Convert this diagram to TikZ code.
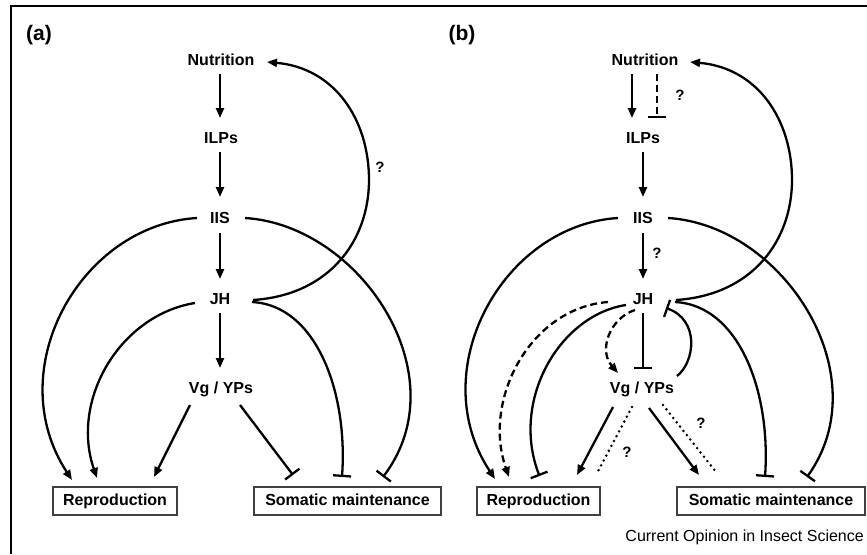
\documentclass[tikz,border=0pt]{standalone}
\usepackage{fontspec}
\setmainfont{Liberation Sans}
\usetikzlibrary{arrows.meta,calc}
\begin{document}
\begin{tikzpicture}[x=1pt,y=-1pt,
  lbl/.style={font=\fontsize{16}{19}\selectfont\bfseries, inner sep=0pt, text height=11.5pt, text depth=0pt},
  qm/.style={font=\fontsize{15}{18}\selectfont\bfseries, inner sep=0pt},
  panel/.style={font=\fontsize{21}{24}\selectfont\bfseries, inner sep=0pt},
  boxn/.style={draw=black!75, line width=1.1pt, font=\fontsize{16}{19}\selectfont\bfseries, minimum width=#1, minimum height=28pt, inner sep=0pt, text height=11.5pt, text depth=3.5pt},
  act/.style={line width=2.3pt, -{Triangle[length=10pt,width=8pt]}},
  inh/.style={line width=2.3pt, -{Bar[width=18pt,line width=2.3pt]}},
  dsh/.style={dash pattern=on 7pt off 4pt},
  dot/.style={line width=2.8pt, line cap=round, dash pattern=on 0pt off 5.5pt},
]
\useasboundingbox (0,0) rectangle (867,554);
\draw[line width=1.8pt] (11,554) -- (11,6) -- (867,6);

% ---------- panel (a)
\node[panel] (la) at (39,35) {(a)};
\node[lbl] (nutA) at (221,60) {Nutrition};
\node[lbl] (ilpA) at (221,138) {ILPs};
\node[lbl] (iisA) at (220,218) {IIS};
\node[lbl] (jhA) at (220,299) {JH};
\node[lbl] (vgA) at (221,388) {Vg / YPs};
\node[boxn=124pt] (repA) at (115,501) {Reproduction};
\node[boxn=187pt] (somA) at (347.5,501) {Somatic maintenance};

\draw[act] ($(nutA)+(-1,14)$) -- ($(ilpA)+(-1,-20)$);
\draw[act] ($(ilpA)+(-1,14)$) -- ($(iisA)+(0,-21)$);
\draw[act] ($(iisA)+(0,15)$) -- ($(jhA)+(0,-20)$);
\draw[act] ($(jhA)+(0,14)$) -- ($(vgA)+(-1,-20)$);

\draw[act] ($(iisA)+(-23,0)$) .. controls (80,225) and (0,370) .. ($(repA)+(-43,-21)$);
\draw[act] ($(jhA)+(-25,4)$) .. controls (120,315) and (70,400) .. ($(repA)+(-18,-23)$);
\draw[act] ($(vgA)+(-31,17)$) -- ($(repA)+(39,-24)$);
\draw[inh] ($(vgA)+(19,17)$) -- ($(somA)+(-54.5,-26)$);
\draw[inh] ($(jhA)+(32,3)$) .. controls (315,305) and (348,390) .. ($(somA)+(-5.5,-24)$);
\draw[inh] ($(iisA)+(25,0)$) .. controls (360,225) and (460,375) .. ($(somA)+(35.5,-24)$);
\draw[act] ($(jhA)+(33,1)$) .. controls (330,295) and (369,240) .. (369,180)
  .. controls (369,120) and (335,68) .. ($(nutA)+(46,2)$);
\node[qm] (qa1) at (380,167) {?};

% ---------- panel (b)
\node[panel] (lb) at (462,35) {(b)};
\node[lbl] (nutB) at (645,60) {Nutrition};
\node[lbl] (ilpB) at (643,138) {ILPs};
\node[lbl] (iisB) at (643,218) {IIS};
\node[lbl] (jhB) at (643,299) {JH};
\node[lbl] (vgB) at (642,388) {Vg / YPs};
\node[boxn=123pt] (repB) at (538.5,501) {Reproduction};
\node[boxn=188pt] (somB) at (771,501) {Somatic maintenance};

\draw[act] ($(nutB)+(-13,14)$) -- ($(ilpB)+(-11,-20)$);
\draw[inh,dsh] ($(nutB)+(12,14)$) -- ($(ilpB)+(14,-20)$);
\node[qm] (qb1) at (680,95) {?};
\draw[act] ($(ilpB)+(0,14)$) -- ($(iisB)+(0,-21)$);
\draw[act] ($(iisB)+(0,15)$) -- ($(jhB)+(0,-20)$);
\node[qm] (qb2) at (657,253) {?};
\draw[inh] ($(jhB)+(0,14)$) -- ($(vgB)+(1,-19)$);

\draw[act] ($(iisB)+(-25,0)$) .. controls (503,225) and (423,370) .. ($(repB)+(-43.5,-22)$);
\draw[act,dsh] ($(jhB)+(-35,3)$) .. controls (530,308) and (482,400) .. ($(repB)+(-29.5,-24)$);
\draw[inh] ($(jhB)+(-17,6)$) .. controls (560,315) and (510,400) .. ($(repB)+(1,-25)$);
\draw[act,dsh] ($(jhB)+(-8,11)$) .. controls (610,318) and (598,350) .. ($(vgB)+(-24,-15)$);
\draw[inh] ($(vgB)+(35,-12)$) .. controls (695,362) and (700,320) .. ($(jhB)+(23,9)$);
\draw[act] ($(vgB)+(-29,19)$) -- ($(repB)+(38.5,-26)$);
\draw[dot] ($(vgB)+(-10,19)$) -- ($(repB)+(57.5,-26)$);
\node[qm] (qb3) at (627,452) {?};
\draw[act] ($(vgB)+(7,20)$) -- ($(somB)+(-72,-26)$);
\draw[dot] ($(vgB)+(21,17)$) -- ($(somB)+(-55,-29)$);
\node[qm] (qb4) at (701,423) {?};
\draw[inh] ($(jhB)+(32,3)$) .. controls (738,305) and (771,390) .. ($(somB)+(-6,-24)$);
\draw[inh] ($(iisB)+(25,0)$) .. controls (783,225) and (880,375) .. ($(somB)+(36,-24)$);
\draw[act] ($(jhB)+(33,1)$) .. controls (753,295) and (792,240) .. (792,180)
  .. controls (792,120) and (758,68) .. ($(nutB)+(45,2)$);

\node[font=\fontsize{16}{19}\selectfont, inner sep=0pt, anchor=base east] (cap) at (864,541) {Current Opinion in Insect Science};
\end{tikzpicture}
\end{document}
